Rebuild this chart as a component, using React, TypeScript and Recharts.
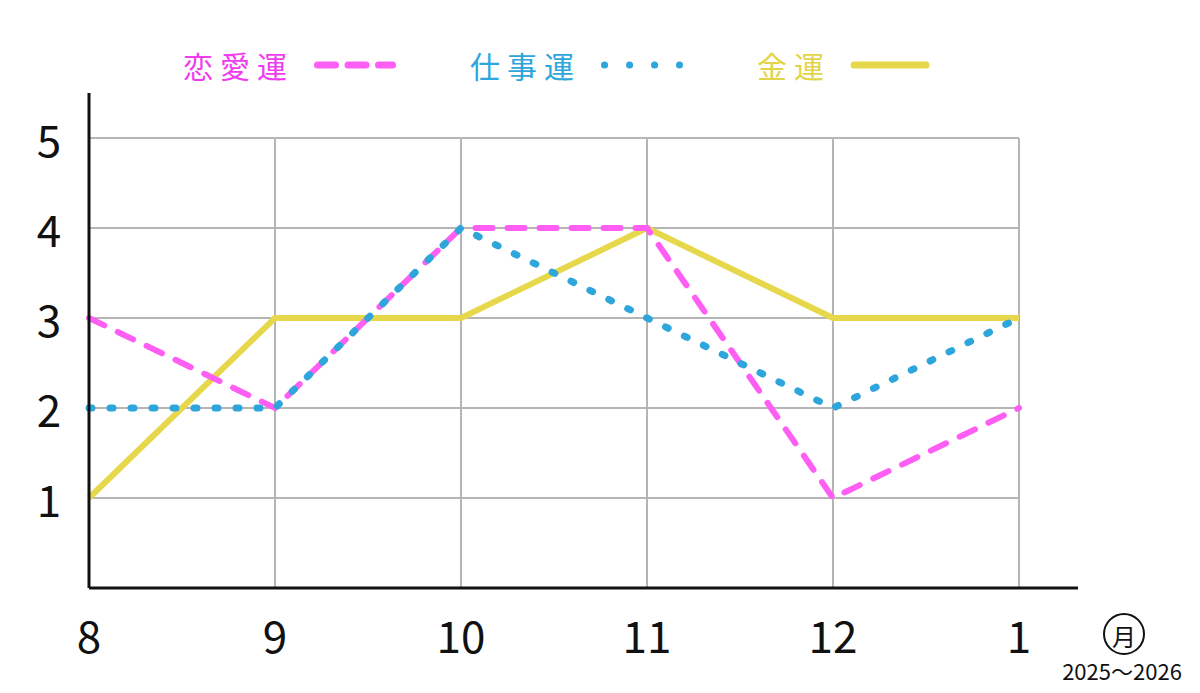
import React from 'react';
import { LineChart, Line, XAxis, YAxis, ReferenceLine } from 'recharts';

const months = ['8', '9', '10', '11', '12', '1'];
const love = [3, 2, 4, 4, 1, 2];
const work = [2, 2, 4, 3, 2, 3];
const money = [1, 3, 3, 4, 3, 3];
const yTicks = [1, 2, 3, 4, 5];

const series = [
  { key: 'love', name: '恋愛運', color: '#ff5ef5', text: '#ee3cee', legendDash: '18 12.5', len: 75 },
  { key: 'work', name: '仕事運', color: '#2ea6dc', text: '#2ea6dc', legendDash: '0.1 24.9', len: 75 },
  { key: 'money', name: '金運', color: '#e6d84a', text: '#e3d447', legendDash: undefined, len: 72 },
];

const data = months.map((m, i) => ({ month: m, love: love[i], work: work[i], money: money[i] }));

const FONT = '"Noto Sans CJK JP", "Noto Sans", sans-serif';
const GRID = '#b5b5b5';

function AxisTick({ x, y, payload }: any) {
  return (
    <text
      x={x}
      y={y}
      textAnchor="middle"
      dominantBaseline="central"
      fontSize={44}
      fill="#111"
      fontFamily={FONT}
    >
      {payload.value}
    </text>
  );
}

function LegendRow() {
  return (
    <svg width={1200} height={100} style={{ position: 'absolute', left: 0, top: 15 }}>
      {series.map((s, i) => {
        const x0 = 183 + i * 287;
        const lineStart = x0 + s.name.length * 37.5 + 22;
        return (
          <g key={s.key}>
            <text
              x={x0}
              y={50}
              dominantBaseline="central"
              fontSize={30}
              letterSpacing={7}
              fill={s.text}
              fontFamily={FONT}
            >
              {s.name}
            </text>
            <line
              x1={lineStart}
              x2={lineStart + s.len}
              y1={50}
              y2={50}
              stroke={s.color}
              strokeWidth={7}
              strokeLinecap="round"
              strokeDasharray={s.legendDash}
            />
          </g>
        );
      })}
    </svg>
  );
}

export default function App() {
  return (
    <div style={{ position: 'absolute', left: 0, top: 0, width: 1200, height: 693, background: '#fff' }}>
      <LineChart width={1200} height={693} data={data} margin={{ top: 93, right: 122, bottom: 45, left: 29 }}>
        {months.map((m) => (
          <ReferenceLine
            key={'v' + m}
            segment={[
              { x: m, y: 0 },
              { x: m, y: 5 },
            ]}
            stroke={GRID}
            strokeWidth={2}
          />
        ))}
        {yTicks.map((t) => (
          <ReferenceLine
            key={'h' + t}
            segment={[
              { x: months[0], y: t },
              { x: months[months.length - 1], y: t },
            ]}
            stroke={GRID}
            strokeWidth={2}
          />
        ))}
        <XAxis
          dataKey="month"
          type="category"
          padding={{ left: 0, right: 59 }}
          height={60}
          axisLine={{ stroke: '#111', strokeWidth: 3 }}
          tickLine={false}
          tickMargin={40}
          tick={<AxisTick />}
          interval={0}
        />
        <YAxis
          domain={[0, 5.5]}
          ticks={yTicks}
          width={60}
          axisLine={{ stroke: '#111', strokeWidth: 3 }}
          tickLine={false}
          tickMargin={34}
          tick={<AxisTick />}
          allowDataOverflow
        />
        <Line
          dataKey="money"
          type="linear"
          stroke="#e6d84a"
          strokeWidth={6}
          strokeLinejoin="round"
          dot={false}
          activeDot={false}
          isAnimationActive={false}
        />
        <Line
          dataKey="love"
          type="linear"
          stroke="#ff5ef5"
          strokeWidth={6}
          strokeDasharray="17 15"
          strokeLinecap="round"
          dot={false}
          activeDot={false}
          isAnimationActive={false}
        />
        <Line
          dataKey="work"
          type="linear"
          stroke="#2ea6dc"
          strokeWidth={7}
          strokeDasharray="3 18"
          strokeLinecap="round"
          dot={false}
          activeDot={false}
          isAnimationActive={false}
        />
      </LineChart>
      <LegendRow />
      <svg width={200} height={113} style={{ position: 'absolute', left: 1000, top: 580 }}>
        <circle cx={124} cy={54} r={20} fill="none" stroke="#111" strokeWidth={2} />
        <text x={124} y={55} textAnchor="middle" dominantBaseline="central" fontSize={24} fill="#111" fontFamily={FONT}>
          月
        </text>
        <text x={122} y={90} textAnchor="middle" dominantBaseline="central" fontSize={22} fill="#111" fontFamily={FONT}>
          2025～2026
        </text>
      </svg>
    </div>
  );
}
